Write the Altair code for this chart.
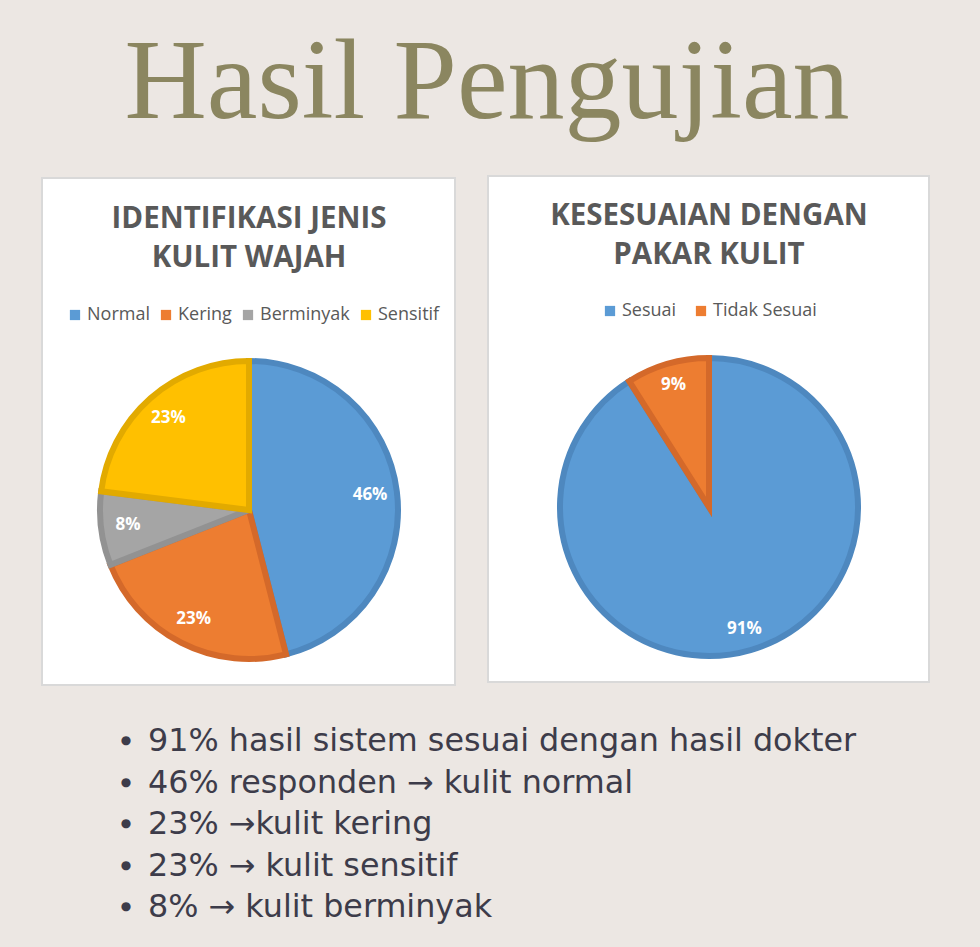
import altair as alt
import pandas as pd

# ---------------- data ----------------
judul = "Hasil Pengujian"

jenis_judul = ["IDENTIFIKASI JENIS", "KULIT WAJAH"]
jenis_kategori = ["Normal", "Kering", "Berminyak", "Sensitif"]
jenis_persen = [46, 23, 8, 23]
jenis_warna = ["#5B9BD5", "#ED7D31", "#A5A5A5", "#FFC000"]
jenis_garis = ["#4E88BF", "#D4692A", "#929292", "#E2AA00"]

pakar_judul = ["KESESUAIAN DENGAN", "PAKAR KULIT"]
pakar_kategori = ["Sesuai", "Tidak Sesuai"]
pakar_persen = [91, 9]
pakar_warna = ["#5B9BD5", "#ED7D31"]
pakar_garis = ["#4E88BF", "#D4692A"]

poin = [
    "91% hasil sistem sesuai dengan hasil dokter",
    "46% responden \u2192 kulit normal",
    "23% \u2192kulit kering",
    "23% \u2192 kulit sensitif",
    "8% \u2192 kulit berminyak",
]

BG = "#ECE7E3"
TITLE_COLOR = "#8B8660"
GREY_TEXT = "#595959"
BODY = "#3D3C4A"
FONT = "Open Sans"
BODY_FONT = "DejaVu Sans"

one = pd.DataFrame({"d": [0]})


def text_layer(s, x, y, **kw):
    return alt.Chart(one).mark_text(text=s, **kw).encode(
        x=alt.value(x), y=alt.value(y)
    )


def panel(x1, y1, x2, y2):
    return alt.Chart(one).mark_rect(
        fill="white", stroke="#D9D9D9", strokeWidth=2
    ).encode(x=alt.value(x1), x2=alt.value(x2), y=alt.value(y1), y2=alt.value(y2))


def pie(cats, vals, fills, strokes, cx, cy, r, lr, lx, ly, colpad):
    df = pd.DataFrame({"kategori": cats, "nilai": vals, "urut": list(range(len(cats)))})
    base = alt.Chart(df).transform_calculate(
        label="datum.nilai + '%'"
    ).encode(
        theta=alt.Theta("nilai:Q", stack=True),
        order=alt.Order("urut:Q"),
        x=alt.value(cx),
        y=alt.value(cy),
    )
    arcs = base.mark_arc(radius=r - 3, strokeWidth=6, strokeJoin="miter").encode(
        color=alt.Color(
            "kategori:N",
            sort=cats,
            scale=alt.Scale(domain=cats, range=fills),
            legend=alt.Legend(
                orient="none",
                legendX=lx,
                legendY=ly,
                direction="horizontal",
                title=None,
                symbolType="square",
                symbolSize=105,
                symbolStrokeWidth=0,
                labelFont=FONT,
                labelFontSize=18,
                labelColor=GREY_TEXT,
                labelOffset=3,
                columnPadding=colpad,
            ),
        ),
        stroke=alt.Stroke(
            "kategori:N", sort=cats, scale=alt.Scale(domain=cats, range=strokes), legend=None
        ),
    )
    labels = base.mark_text(
        radius=lr, font=FONT, fontSize=17, fontWeight="bold", color="white"
    ).encode(text="label:N")
    return alt.layer(arcs, labels)


layers = [
    text_layer(judul, 487, 118, font="Liberation Serif", fontSize=114, color=TITLE_COLOR,
               align="center", baseline="alphabetic"),
    panel(42, 178, 455, 685),
    panel(488, 176, 929, 682),
    text_layer(jenis_judul[0], 249, 219, font=FONT, fontSize=29.5, fontWeight="bold",
               color=GREY_TEXT, align="center", baseline="middle"),
    text_layer(jenis_judul[1], 249, 258, font=FONT, fontSize=29.5, fontWeight="bold",
               color=GREY_TEXT, align="center", baseline="middle"),
    text_layer(pakar_judul[0], 709, 216, font=FONT, fontSize=29.5, fontWeight="bold",
               color=GREY_TEXT, align="center", baseline="middle"),
    text_layer(pakar_judul[1], 709, 255, font=FONT, fontSize=29.5, fontWeight="bold",
               color=GREY_TEXT, align="center", baseline="middle"),
    pie(jenis_kategori, jenis_persen, jenis_warna, jenis_garis,
        249, 510, 152, 122, 66, 306, 7),
    pie(pakar_kategori, pakar_persen, pakar_warna, pakar_garis,
        709, 507, 152, 127, 601, 302, 15),
    alt.Chart(one).mark_text(
        text=["\u25CF"] * len(poin), font=BODY_FONT, fontSize=12, color=BODY,
        align="center", baseline="middle", lineHeight=41.5
    ).encode(x=alt.value(126), y=alt.value(740)),
    alt.Chart(one).mark_text(
        text=poin, font=BODY_FONT, fontSize=31.8, color=BODY,
        align="left", baseline="alphabetic", lineHeight=41.5
    ).encode(x=alt.value(148), y=alt.value(751)),
]

chart = alt.layer(*layers).resolve_scale(
    color="independent", stroke="independent", theta="independent"
).properties(
    width=980, height=947, padding=0, background=BG,
    autosize=alt.AutoSizeParams(type="none"),
).configure_view(stroke=None)

chart.save("out.html", embed_options={"renderer": "svg", "actions": False})
